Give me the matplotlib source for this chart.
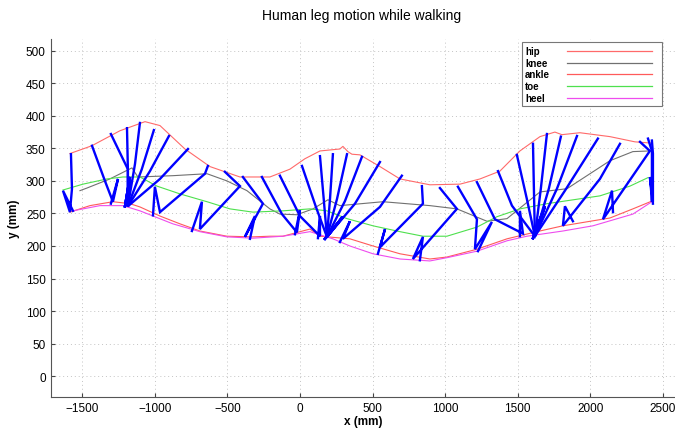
import matplotlib
matplotlib.use("Agg")
import matplotlib.pyplot as plt
from matplotlib.patches import Rectangle
from matplotlib.lines import Line2D

plt.rcParams['font.family'] = ['Liberation Sans', 'DejaVu Sans']

# joint trajectories (mm)
hip_curve_x = [-1584, -1433, -1240, -1067, -964, -792, -620, -413, -207, -69, 34, 138, 275, 296, 330, 358,
               413, 551, 689, 895, 1102, 1240, 1377, 1515, 1653, 1756, 1804, 1928, 2135, 2307, 2424]
hip_curve_y = [342, 354, 377, 391, 385, 349, 322, 306, 306, 318, 334, 346, 349, 353, 345, 341,
               340, 322, 303, 294, 295, 303, 315, 346, 368, 375, 371, 374, 368, 360, 358]

knee_curve_x = [-1515, -1467, -1309, -1157, -1116, -875, -640, -503, -365, -207, -138, -21, 90, 193, 275,
                572, 895, 1081, 1288, 1426, 1536, 1653, 1839, 2135, 2293, 2410]
knee_curve_y = [285, 289, 303, 320, 306, 308, 311, 300, 285, 257, 249, 248, 257, 271, 262,
                268, 262, 257, 238, 242, 262, 283, 288, 331, 345, 346]

ankle_curve_x = [-1584, -1446, -1288, -1171, -1102, -964, -826, -689, -503, -324, -207, -117, 69, 138, 344,
                 503, 689, 895, 1012, 1219, 1426, 1632, 1811, 2135, 2293, 2424]
ankle_curve_y = [252, 262, 268, 265, 260, 246, 234, 223, 215, 214, 215, 215, 226, 215, 211,
                 200, 188, 180, 183, 195, 211, 222, 231, 243, 257, 269]

toe_curve_x = [-1632, -1494, -1329, -1219, -1102, -985, -826, -640, -482, -324, -117, 69, 186, 324, 503,
               689, 847, 1012, 1219, 1357, 1515, 1701, 2066, 2273, 2397]
toe_curve_y = [286, 295, 303, 306, 306, 292, 280, 268, 257, 252, 254, 257, 254, 242, 231,
               222, 215, 215, 229, 245, 257, 265, 277, 292, 305]

heel_curve_x = [-1563, -1377, -1219, -1102, -875, -689, -503, -324, -117, 69, 227, 344, 503, 689, 895,
                1012, 1219, 1426, 1563, 1811, 2018, 2293, 2424]
heel_curve_y = [254, 262, 262, 254, 234, 222, 214, 212, 215, 222, 211, 200, 188, 180, 177,
                182, 192, 208, 215, 223, 231, 249, 268]

# stick figure frames
hip_x = [-1577, -1432, -1302, -1191, -1102, -1006, -902, -771, -634, -517, -393, -262, -138, 14, 138, 227,
         324, 427, 551, 702, 840, 964, 1088, 1219, 1364, 1494, 1605, 1701, 1797, 1908, 2052, 2204, 2342, 2397, 2424]
hip_y = [341, 354, 372, 381, 389, 378, 369, 349, 323, 314, 306, 306, 308, 323, 338, 341,
         341, 337, 329, 308, 292, 289, 291, 298, 315, 340, 357, 372, 368, 369, 365, 357, 360, 365, 362]
knee_x = [-1570, -1343, -1185, -1185, -1136, -1089, -1033, -964, -654, -413, -255, -124, 0, 110, 165, 207,
          255, 310, 379, 551, 847, 1081, 1219, 1343, 1460, 1563, 1612, 1659, 1714, 1770, 1825, 2066, 2410, 2424, 2431]
knee_y = [288, 300, 318, 318, 326, 318, 315, 303, 311, 292, 265, 249, 246, 260, 269, 272,
          272, 269, 265, 260, 265, 257, 241, 241, 262, 272, 280, 288, 288, 288, 285, 303, 346, 346, 342]
ankle_x = [-1584, -1288, -1185, -1185, -1185, -1185, -1185, -1185, -964, -689, -379, -21, 138, 186, 186, 186,
           186, 186, 186, 296, 551, 778, 1205, 1536, 1618, 1618, 1618, 1618, 1618, 1618, 1618, 1811, 2087, 2424, 2431]
ankle_y = [252, 268, 261, 261, 261, 261, 261, 261, 252, 226, 214, 221, 215, 214, 214, 214,
           214, 214, 214, 211, 198, 180, 195, 219, 215, 215, 215, 215, 215, 215, 215, 231, 241, 268, 268]
toe_x = [-1632, -1253, -1171, -1171, -1171, -1171, -1171, -1171, -999, -675, -310, 0, 138, 296, 296, 296,
         296, 296, 296, 344, 586, 847, 1322, 1515, 1687, 1687, 1687, 1687, 1687, 1687, 1687, 1825, 2149, 2424, 2410]
toe_y = [285, 303, 306, 306, 306, 306, 306, 306, 291, 268, 246, 255, 246, 245, 245, 245,
         245, 245, 245, 238, 226, 214, 237, 254, 261, 261, 261, 261, 261, 261, 261, 261, 285, 303, 306]
heel_x = [-1563, -1302, -1205, -1205, -1205, -1205, -1205, -1205, -1012, -744, -344, -34, 124, 172, 172, 172,
          172, 172, 172, 275, 537, 826, 1226, 1515, 1605, 1605, 1605, 1605, 1605, 1605, 1605, 1880, 2156, 2431, 2424]
heel_y = [254, 265, 261, 261, 261, 261, 261, 261, 247, 223, 211, 218, 212, 211, 211, 211,
          211, 211, 211, 206, 188, 178, 192, 215, 212, 212, 212, 212, 212, 212, 212, 238, 252, 265, 272]

labels = ['hip', 'knee', 'ankle', 'toe', 'heel']
colors = ['#ff6a6a', '#707070', '#ff5a5a', '#4ee04e', '#ee4cee']

fig = plt.figure(figsize=(6.75, 4.31), dpi=100)
ax = fig.add_axes([0.075, 0.0766, 0.925, 0.8306])

curves = [(hip_curve_x, hip_curve_y), (knee_curve_x, knee_curve_y), (ankle_curve_x, ankle_curve_y),
          (toe_curve_x, toe_curve_y), (heel_curve_x, heel_curve_y)]
for (cx, cy), c in zip(curves, colors):
    ax.plot(cx, cy, color=c, lw=0.8, zorder=2)

# legs: hip -> knee -> ankle -> toe -> heel
for i in range(len(hip_x)):
    ax.plot([hip_x[i], knee_x[i], ankle_x[i], toe_x[i], heel_x[i]],
            [hip_y[i], knee_y[i], ankle_y[i], toe_y[i], heel_y[i]],
            color='#0000ff', lw=1.7, solid_joinstyle='miter', zorder=3)

ax.set_xlim(-1717, 2583)
ax.set_ylim(-32, 518)
ax.set_xticks(range(-1500, 2501, 500))
ax.set_yticks(range(0, 501, 50))
ax.tick_params(direction='in', length=3, labelsize=8.5, color='#444444')
ax.grid(True, linestyle=(0, (1, 3)), color='#c4c4c4', lw=0.7)
ax.spines['top'].set_visible(False)
ax.spines['right'].set_visible(False)
ax.spines['left'].set_color('#555555')
ax.spines['bottom'].set_color('#555555')

ax.set_xlabel('x (mm)', fontsize=8.5, fontweight='bold', labelpad=1)
ax.set_ylabel('y (mm)', fontsize=8.5, fontweight='bold', labelpad=4)
fig.text(0.536, 0.962, 'Human leg motion while walking', fontsize=10, ha='center', va='center')

# legend box, text left and sample line right
def fx(px):
    return px / 675.0

def fy(py):
    return 1 - py / 431.0

fig.patches.append(Rectangle((fx(522), fy(107)), fx(662) - fx(522), fy(43) - fy(107),
                             transform=fig.transFigure, facecolor='white', edgecolor='#777777', lw=0.8, zorder=5))
rows = [52, 64, 75, 87, 99]
for lab, c, r in zip(labels, colors, rows):
    fig.text(fx(525), fy(r), lab, fontsize=7, fontweight='bold', va='center', ha='left', zorder=6)
    fig.lines.append(Line2D([fx(567), fx(652)], [fy(r), fy(r)], transform=fig.transFigure,
                            color=c, lw=0.9, zorder=6))

fig.savefig('out.png', dpi=100)
